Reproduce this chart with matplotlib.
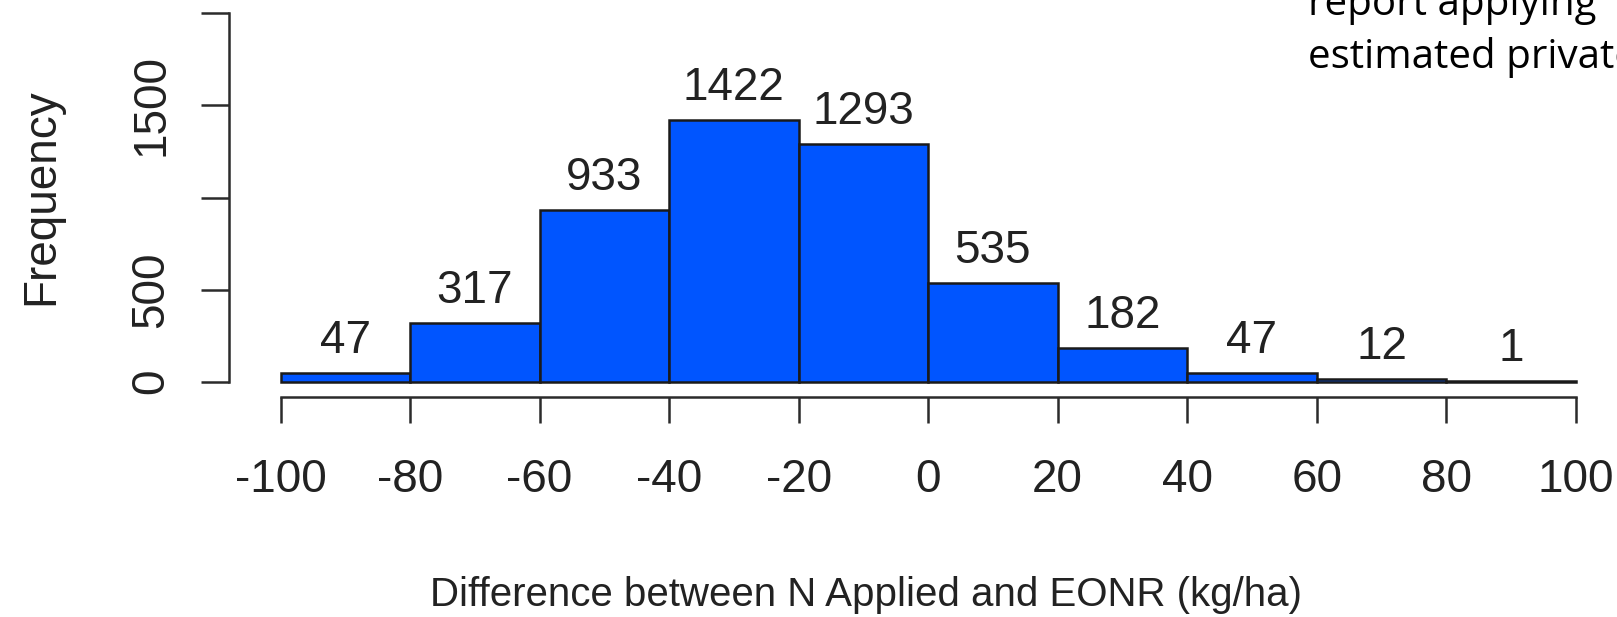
import matplotlib
matplotlib.use("Agg")
import matplotlib.pyplot as plt
import numpy as np

# histogram of N applied minus EONR, 20 kg/ha bins
bin_edges = [-100, -80, -60, -40, -20, 0, 20, 40, 60, 80, 100]
counts = [47, 317, 933, 1422, 1293, 535, 182, 47, 12, 1]
y_ticks = [0, 500, 1000, 1500, 2000]
y_tick_labels = ["0", "500", "", "1500", ""]
x_ticks = [-100, -80, -60, -40, -20, 0, 20, 40, 60, 80, 100]

W, H = 1617, 617
fig = plt.figure(figsize=(W / 100, H / 100), dpi=100)
fig.patch.set_facecolor("white")
plt.rcParams["font.family"] = ["Liberation Sans", "DejaVu Sans"]
fs = 33
axis_col = "#2b2b2b"

# axes box = data range exactly, spines pushed outward like base R
left, right = 280.5, 1575.8
top, bottom = 13.4, 381.6
ax = fig.add_axes([left / W, 1 - bottom / H, (right - left) / W, (bottom - top) / H])
ax.set_xlim(bin_edges[0], bin_edges[-1])
ax.set_ylim(0, 2000)

lefts = np.array(bin_edges[:-1])
widths = np.diff(bin_edges)
ax.bar(lefts, counts, width=widths, align="edge", color="#0055ff",
       edgecolor="#1a1a1a", linewidth=1.8, clip_on=False, zorder=3)

# counts above each bar
for x0, w, c in zip(lefts, widths, counts):
    ax.annotate(str(c), (x0 + w / 2, c), xytext=(0, 23), textcoords="offset points",
                ha="center", va="center", fontsize=fs, color="#222222")

for s in ["top", "right"]:
    ax.spines[s].set_visible(False)
ax.spines["left"].set_position(("outward", 37))
ax.spines["bottom"].set_position(("outward", 11))
ax.spines["left"].set_bounds(0, 2000)
ax.spines["bottom"].set_bounds(-100, 100)
for s in ["left", "bottom"]:
    ax.spines[s].set_color(axis_col)
    ax.spines[s].set_linewidth(1.8)

ax.set_xticks(x_ticks)
ax.set_xticklabels([str(v) for v in x_ticks])
ax.set_yticks(y_ticks)
ax.set_yticklabels(y_tick_labels, rotation=90, va="center")
ax.tick_params(axis="x", length=19, width=1.8, color=axis_col, pad=25,
               labelsize=fs, labelcolor="#222222")
ax.tick_params(axis="y", length=20, width=1.8, color=axis_col, pad=20,
               labelsize=fs, labelcolor="#222222")
ax.set_facecolor("none")

fig.text(41 / W, 1 - 197 / H, "Frequency", rotation=90, ha="center", va="center",
         fontsize=fs, color="#222222")
fig.text(866 / W, 11 / H, "Difference between N Applied and EONR (kg/ha)",
         ha="center", va="baseline", fontsize=29, color="#222222")

# slide text running off the top-right corner
fig.text(1308 / W, 1 - 15 / H, "report applying", ha="left", va="baseline",
         fontsize=29, family=["Open Sans", "DejaVu Sans"], color="black")
fig.text(1308 / W, 1 - 68 / H, "estimated private", ha="left", va="baseline",
         fontsize=29, family=["Open Sans", "DejaVu Sans"], color="black")

fig.savefig("out.png", dpi=100, facecolor="white")
